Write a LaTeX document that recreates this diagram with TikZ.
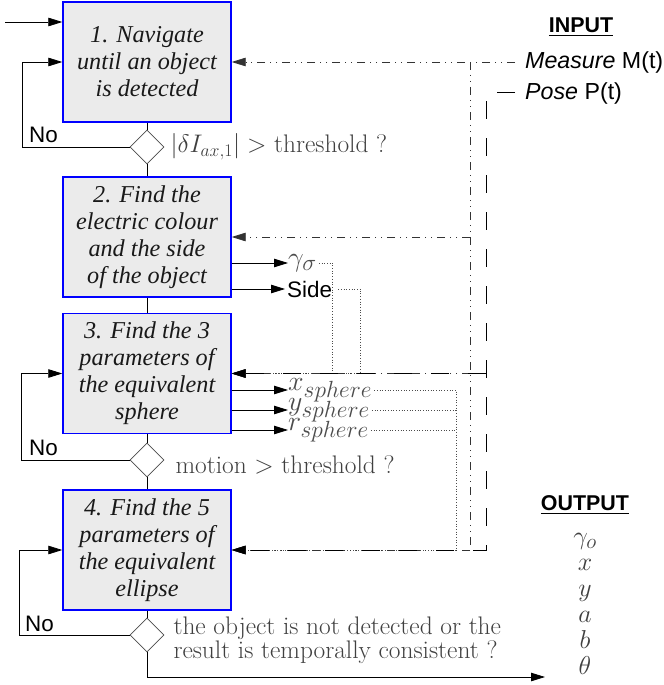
\RequirePackage{fix-cm}
\documentclass[tikz,border=0pt]{standalone}
\usepackage{fontspec}
\newfontfamily\boxfont{Liberation Serif}
\newfontfamily\arialfont{Liberation Sans}
\usepackage{tikz}
\usetikzlibrary{
    arrows.meta,
    shapes.geometric, % diamond tests
    positioning
}
\usepackage{amsmath, amssymb}
\DeclareMathSizes{26}{26}{21}{17}
\DeclareMathSizes{28}{28}{23.5}{18}

\begin{document}
\begin{tikzpicture}[x=1bp,y=-1bp,
    >={Triangle[length=14bp,width=8.5bp]},
    stage/.style={draw=blue,line width=1.4bp,fill=black!8,
        minimum width=168bp,minimum height=120bp,inner sep=0pt,
        align=center,text=black!90,
        font=\boxfont\itshape\fontsize{24.3}{27}\selectfont},
    test/.style={diamond,draw=black!70,line width=0.8bp,fill=white,
        minimum width=34bp,minimum height=34bp,inner sep=0pt},
    flow/.style={line width=0.8bp},
    measure/.style={line width=0.8bp,black!80,
        dash pattern=on 8bp off 5bp on 1bp off 5bp on 1bp off 5bp},
    pose/.style={line width=1bp,dash pattern=on 18bp off 19bp},
    dots/.style={line width=0.7bp,black!70,dotted},
    cond/.style={anchor=west,text=black!75,font=\fontsize{25.5}{24}\selectfont},
    lab/.style={anchor=west,inner sep=2bp,font=\arialfont\fontsize{22.5}{24}\selectfont},
    mathlab/.style={anchor=west,inner sep=0pt,text=black!70,font=\fontsize{28}{24}\selectfont},
    head/.style={font=\arialfont\bfseries\fontsize{21.5}{22}\selectfont}
  ]
    \useasboundingbox (0,0) rectangle (664,685);

    % the four stages and their tests
    \node[stage] (s1) at (147,62) {1. Navigate\\until an object\\is detected};
    \node[test] (d1) at (147,147) {};
    \node[stage] (s2) at (147,237) {2. Find the\\electric colour\\and the side\\of the object};
    \node[stage] (s3) at (147,373.5) {3. Find the 3\\parameters of\\the equivalent\\sphere};
    \node[test] (d2) at (147,460) {};
    \node[stage] (s4) at (147,550) {4. Find the 5\\parameters of\\the equivalent\\ellipse};
    \node[test] (d3) at (147,635) {};

    \node[cond] (c1) at (167,147) {$|\delta I_{ax,1}| >$ threshold ?};
    \node[cond] (c2) at (172,465) {motion $>$ threshold ?};
    \node[cond,align=left] (c3) at (170,640) {the object is not detected or the\\result is temporally consistent ?};

    \node[lab] (no1) at (27,135) {No};
    \node[lab] (no2) at (27,448) {No};
    \node[lab] (no3) at (23,624) {No};

    \draw[flow] (s1) -- (d1) -- (s2) -- (s3) -- (d2) -- (s4) -- (d3);
    \coordinate (start) at (5,22);
    \draw[flow,->] (start) -- (start -| s1.west);
    \draw[flow,->] (d1.west) -- ++(-107,0) |- (s1.west);
    \draw[flow,->] (d2.west) -- ++(-108,0) |- (s3.west);
    \draw[flow,->] (d3.west) -- ++(-110,0) |- (s4.west);
    \coordinate (finish) at (545,677);
    \draw[flow,->] (d3.south) |- (finish);

    % intermediate results
    \node[mathlab] (gs) at (288,263) {$\gamma_\sigma$};
    \node[lab] (side) at (285,289) {Side};
    \node[mathlab] (xs) at (288,390) {$x_{sphere}$};
    \node[mathlab] (ys) at (288,410) {$y_{sphere}$};
    \node[mathlab] (rs) at (288,430) {$r_{sphere}$};
    \draw[flow,->] (gs.west -| s2.east) -- (gs.west);
    \draw[flow,->] (side.west -| s2.east) -- (side.west);
    \draw[flow,->] (xs.west -| s3.east) -- (xs.west);
    \draw[flow,->] (ys.west -| s3.east) -- (ys.west);
    \draw[flow,->] (rs.west -| s3.east) -- (rs.west);

    \draw[dots,->] ([xshift=2bp]gs.east) -| ([xshift=101bp]s3.east) -- (s3.east);
    \draw[dots,->] ([xshift=4bp]side.east) -| ([xshift=129bp]s3.east) -- (s3.east);
    \coordinate (sph) at (456,550);
    \draw[dots,->] ([xshift=2bp]xs.east) -| (sph) -- (s4.east);
    \draw[dots] ([xshift=2bp]ys.east) -- (ys.east -| sph);
    \draw[dots] ([xshift=2bp]rs.east) -- (rs.east -| sph);

    % inputs
    \node[head] (inhead) at (581,27) {\underline{INPUT}};
    \node[lab,font=\arialfont\fontsize{23.3}{24}\selectfont] (meas) at (523,62) {\textit{Measure} M(t)};
    \node[lab,font=\arialfont\fontsize{23.3}{24}\selectfont] (pose) at (523,93) {\textit{Pose} P(t)};
    \coordinate (mv) at (470,62);
    \draw[measure,->] ([xshift=-8bp]meas.west) -- (s1.east);
    \draw[measure] (mv) -- (mv |- s4.east);
    \draw[measure,->] (mv |- s2.east) -- (s2.east);
    \draw[measure,->] (mv |- s3.east) -- (s3.east);
    \draw[measure,->] (mv |- s4.east) -- (s4.east);
    \coordinate (pv) at (486,550);
    \draw[pose,->] ([xshift=-8bp]pose.west) -| (pv) -- (s4.east);
    \draw[pose,->] (pv |- s3.east) -- (s3.east);

    % outputs
    \node[head] (outhead) at (585,505) {\underline{OUTPUT}};
    \node[text=black!75,font=\fontsize{26}{26}\selectfont,align=center] (outlist) at (585,604)
        {$\gamma_o$\\$x$\\$y$\\$a$\\$b$\\$\theta$};
\end{tikzpicture}
\end{document}
